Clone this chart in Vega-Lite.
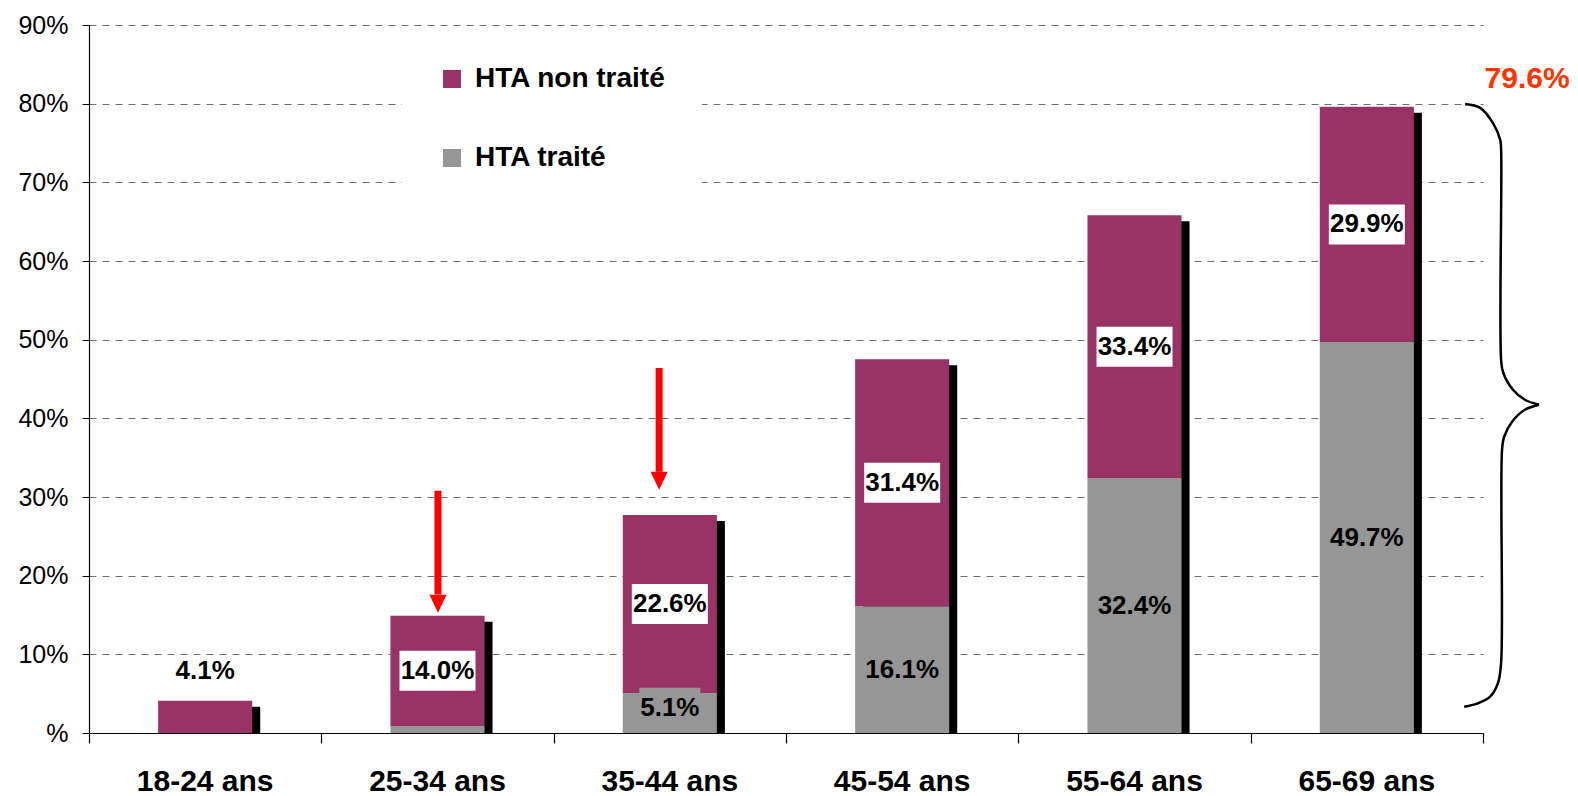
{
  "$schema": "https://vega.github.io/schema/vega-lite/v6.json",
  "width": 1394,
  "height": 708,
  "autosize": "none",
  "padding": {"left": 89, "top": 25, "right": 95, "bottom": 63},
  "background": "white",
  "config": {"font": "Liberation Sans", "view": {"stroke": null}},
  "datasets": {
    "bars": [
      {"cat": "18-24 ans", "serie": "HTA traité", "value": 0},
      {"cat": "18-24 ans", "serie": "HTA non traité", "value": 4.1},
      {"cat": "25-34 ans", "serie": "HTA traité", "value": 0.9},
      {"cat": "25-34 ans", "serie": "HTA non traité", "value": 14.0},
      {"cat": "35-44 ans", "serie": "HTA traité", "value": 5.1},
      {"cat": "35-44 ans", "serie": "HTA non traité", "value": 22.6},
      {"cat": "45-54 ans", "serie": "HTA traité", "value": 16.1},
      {"cat": "45-54 ans", "serie": "HTA non traité", "value": 31.4},
      {"cat": "55-64 ans", "serie": "HTA traité", "value": 32.4},
      {"cat": "55-64 ans", "serie": "HTA non traité", "value": 33.4},
      {"cat": "65-69 ans", "serie": "HTA traité", "value": 49.7},
      {"cat": "65-69 ans", "serie": "HTA non traité", "value": 29.9}
    ],
    "arrows": [
      {"x": 1.502, "ytop": 30.8, "yneck": 17.6, "yhead": 16.44},
      {"x": 2.454, "ytop": 46.4, "yneck": 33.2, "yhead": 32.07}
    ],
    "brace": [
      {"part": "top", "i": 1, "x": 5.923, "y": 79.97},
      {"part": "top", "i": 2, "x": 5.988, "y": 79.47},
      {"part": "top", "i": 3, "x": 6.043, "y": 77.52},
      {"part": "top", "i": 4, "x": 6.074, "y": 75.40},
      {"part": "top", "i": 5, "x": 6.078, "y": 74.12},
      {"part": "top", "i": 6, "x": 6.078, "y": 47.44},
      {"part": "top", "i": 7, "x": 6.087, "y": 45.79},
      {"part": "top", "i": 8, "x": 6.129, "y": 43.63},
      {"part": "top", "i": 9, "x": 6.180, "y": 42.36},
      {"part": "top", "i": 10, "x": 6.241, "y": 41.73},
      {"part": "bottom", "i": 1, "x": 6.241, "y": 41.73},
      {"part": "bottom", "i": 2, "x": 6.180, "y": 41.09},
      {"part": "bottom", "i": 3, "x": 6.125, "y": 39.57},
      {"part": "bottom", "i": 4, "x": 6.091, "y": 37.66},
      {"part": "bottom", "i": 5, "x": 6.082, "y": 36.01},
      {"part": "bottom", "i": 6, "x": 6.078, "y": 8.95},
      {"part": "bottom", "i": 7, "x": 6.065, "y": 6.40},
      {"part": "bottom", "i": 8, "x": 6.031, "y": 4.62},
      {"part": "bottom", "i": 9, "x": 5.975, "y": 3.74},
      {"part": "bottom", "i": 10, "x": 5.919, "y": 3.35}
    ],
    "total": [
      {"x": 6.19, "y": 83.1, "label": "79.6%"}
    ]
  },
  "layer": [
    {
      "data": {"name": "bars"},
      "transform": [
        {"stack": "value", "groupby": ["cat"], "sort": [{"field": "serie", "order": "descending"}], "as": ["y0", "y1"]},
        {"joinaggregate": [{"op": "sum", "field": "value", "as": "total"}], "groupby": ["cat"]},
        {"calculate": "(datum.y0 + datum.y1) / 2", "as": "mid"},
        {"calculate": "max(datum.mid, 3.2)", "as": "labelY"},
        {"calculate": "format(datum.value, '.1f') + '%'", "as": "lbl"}
      ],
      "layer": [
        {
          "transform": [{"filter": "datum.serie === 'HTA non traité'"}],
          "mark": {"type": "bar", "width": {"band": 0.405}, "color": "black", "xOffset": 8, "yOffset": 6},
          "encoding": {
            "x": {"field": "cat", "type": "nominal", "title": null, "scale": {"paddingInner": 0, "paddingOuter": 0}},
            "y": {"field": "total", "type": "quantitative", "title": null, "scale": {"domain": [0, 90], "nice": false}},
            "y2": {"datum": 0}
          }
        },
        {
          "mark": {"type": "bar", "width": {"band": 0.405}},
          "encoding": {
            "x": {
              "field": "cat", "type": "nominal", "title": null,
              "scale": {"paddingInner": 0, "paddingOuter": 0},
              "axis": {"labelAngle": 0, "labelAlign": "center", "labelFontSize": 30, "labelFontWeight": "bold", "labelColor": "black", "domainColor": "black", "domainWidth": 1.2, "tickColor": "transparent", "tickSize": 10, "labelPadding": 38, "grid": false}
            },
            "y": {
              "field": "y1", "type": "quantitative", "title": null,
              "scale": {"domain": [0, 90], "nice": false},
              "axis": {"values": [0, 10, 20, 30, 40, 50, 60, 70, 80, 90], "labelExpr": "datum.value == 0 ? '%' : datum.value + '%'", "labelFontSize": 25, "labelColor": "black", "labelPadding": 14, "tickSize": 7, "tickColor": "black", "domainColor": "black", "domainWidth": 1.2, "grid": true, "gridDash": [7, 6], "gridColor": "#6f6f6f", "gridWidth": 1}
            },
            "y2": {"field": "y0"},
            "color": {
              "field": "serie", "type": "nominal",
              "scale": {"domain": ["HTA non traité", "HTA traité"], "range": ["#993366", "#969696"]},
              "legend": {"orient": "none", "legendX": 313, "legendY": 4, "fillColor": "white", "padding": 36, "title": null, "symbolType": "square", "symbolSize": 324, "symbolStrokeWidth": 0, "symbolOpacity": 1, "labelFontSize": 28, "labelFontWeight": "bold", "labelColor": "black", "labelOffset": 9, "labelLimit": 500, "rowPadding": 51}
            }
          }
        },
        {
          "transform": [{"filter": "datum.serie === 'HTA non traité' && datum.cat !== '18-24 ans'"}],
          "mark": {"type": "point", "shape": "M-1,-0.526H1V0.526H-1Z", "filled": true, "fill": "white", "opacity": 1, "strokeWidth": 0, "size": 5776},
          "encoding": {
            "x": {"field": "cat", "type": "nominal", "title": null},
            "y": {"field": "labelY", "type": "quantitative", "title": null, "scale": {"domain": [0, 90]}}
          }
        },
        {
          "transform": [{"filter": "datum.serie === 'HTA traité' && datum.value >= 1"}],
          "mark": {"type": "point", "shape": "M-1,-0.656H1V0.656H-1Z", "filled": true, "fill": "#969696", "opacity": 1, "strokeWidth": 0, "size": 3721},
          "encoding": {
            "x": {"field": "cat", "type": "nominal", "title": null},
            "y": {"field": "labelY", "type": "quantitative", "title": null, "scale": {"domain": [0, 90]}}
          }
        },
        {
          "transform": [{"filter": "datum.value >= 1 && datum.cat !== '18-24 ans'"}],
          "mark": {"type": "text", "align": "center", "baseline": "middle", "fontSize": 26, "fontWeight": "bold", "color": "black"},
          "encoding": {
            "x": {"field": "cat", "type": "nominal", "title": null},
            "y": {"field": "labelY", "type": "quantitative", "title": null, "scale": {"domain": [0, 90]}},
            "text": {"field": "lbl"}
          }
        },
        {
          "transform": [{"filter": "datum.serie === 'HTA non traité' && datum.cat === '18-24 ans'"}],
          "mark": {"type": "text", "align": "center", "baseline": "middle", "fontSize": 26, "fontWeight": "bold", "color": "black", "dy": -30},
          "encoding": {
            "x": {"field": "cat", "type": "nominal", "title": null},
            "y": {"field": "total", "type": "quantitative", "title": null, "scale": {"domain": [0, 90]}},
            "text": {"field": "lbl"}
          }
        }
      ]
    },
    {
      "layer": [
        {
          "data": {"name": "arrows"},
          "mark": {"type": "rule", "color": "#ff0000", "strokeWidth": 7, "strokeCap": "butt"},
          "encoding": {
            "x": {"field": "x", "type": "quantitative", "scale": {"domain": [0, 6], "nice": false, "zero": false},
              "axis": {"orient": "bottom", "values": [0, 1, 2, 3, 4, 5, 6], "labels": false, "domain": false, "grid": false, "ticks": true, "tickSize": 10, "tickColor": "black", "tickWidth": 1.2, "title": null}},
            "y": {"field": "ytop", "type": "quantitative", "title": null, "scale": {"domain": [0, 90]}},
            "y2": {"field": "yneck"}
          }
        },
        {
          "data": {"name": "arrows"},
          "mark": {"type": "point", "shape": "M-0.95,-1H0.95L0,1Z", "filled": true, "fill": "#ff0000", "opacity": 1, "strokeWidth": 0, "size": 324},
          "encoding": {
            "x": {"field": "x", "type": "quantitative"},
            "y": {"field": "yhead", "type": "quantitative", "title": null, "scale": {"domain": [0, 90]}}
          }
        },
        {
          "data": {"name": "brace"},
          "mark": {"type": "line", "color": "black", "strokeWidth": 2.5, "interpolate": "catmull-rom"},
          "encoding": {
            "x": {"field": "x", "type": "quantitative"},
            "y": {"field": "y", "type": "quantitative", "title": null, "scale": {"domain": [0, 90]}},
            "detail": {"field": "part"},
            "order": {"field": "i", "type": "quantitative"}
          }
        },
        {
          "data": {"name": "total"},
          "mark": {"type": "text", "align": "center", "baseline": "middle", "fontSize": 30, "fontWeight": "bold", "color": "#ff3300"},
          "encoding": {
            "x": {"field": "x", "type": "quantitative"},
            "y": {"field": "y", "type": "quantitative", "title": null, "scale": {"domain": [0, 90]}},
            "text": {"field": "label"}
          }
        }
      ]
    }
  ],
  "resolve": {"scale": {"x": "independent"}, "axis": {"x": "independent"}}
}
